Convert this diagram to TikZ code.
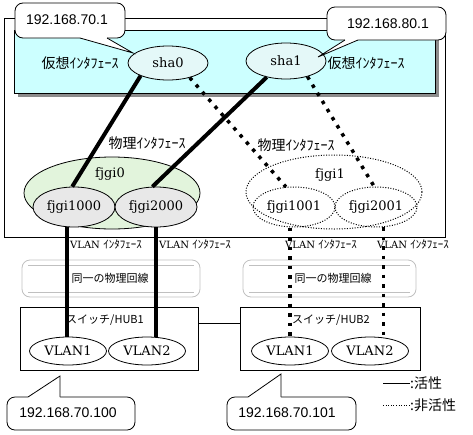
\documentclass[tikz,border=0pt]{standalone}
\usepackage{fontspec}
\usetikzlibrary{shapes.geometric,calc}
\newfontfamily\jpf{Noto Sans CJK JP}
\newfontfamily\serf{DejaVu Serif}
\newfontfamily\ipf{Liberation Sans}
\definecolor{cyanbg}{HTML}{CCFFFF}
\definecolor{shafill}{HTML}{E4F8F8}
\definecolor{greenfill}{HTML}{E2F4DC}
\definecolor{greyfill}{HTML}{E8E8E8}
\definecolor{shadowc}{HTML}{8C8C8C}
\definecolor{tubec}{HTML}{C0C0C0}
\newcommand\vlanifx{{\serf\fontsize{10}{12}\selectfont VLAN} {\jpf\fontsize{11}{13}\selectfont ｲﾝﾀﾌｪｰｽ}}
\begin{document}
\begin{tikzpicture}[x=1pt,y=-1pt,
  every node/.style={inner sep=0pt},
  bline/.style={line width=0.8pt},
  ell/.style={draw,ellipse,inner sep=0pt,line width=0.8pt},
  act/.style={line width=4pt},
  inact/.style={line width=3.5pt,dash pattern=on 3.5pt off 6pt},
  dots/.style={line width=1pt,dash pattern=on 1pt off 1.6pt},
  serl/.style={font=\serf\fontsize{13}{15}\selectfont},
  ipl/.style={font=\ipf\fontsize{14}{16}\selectfont},
  jpl/.style={font=\jpf\fontsize{14}{16}\selectfont},
  jps/.style={font=\jpf\fontsize{11}{13}\selectfont}
]
\useasboundingbox (0,0) rectangle (473,434);
% host box
\draw[bline] (4,18) rectangle (445,237);
% virtual interface band
\fill[shadowc] (18,34) rectangle (439,97);
\draw[bline,fill=cyanbg] (14,30) rectangle (435,93);
% virtual interfaces
\node[ell,fill=shafill,minimum width=80pt,minimum height=34pt,serl] (sha0) at (168,63) {sha0};
\node[ell,fill=shafill,minimum width=80pt,minimum height=36pt,serl] (sha1) at (286,61) {sha1};
\node[jpl] (vl0) at (80,63) {仮想ｲﾝﾀﾌｪｰｽ};
\node[jpl] (vl1) at (366,63) {仮想ｲﾝﾀﾌｪｰｽ};
% physical interfaces
\node[ell,fill=greenfill,minimum width=176pt,minimum height=72pt] (fj0) at (112,193) {};
\node[ell,dots,minimum width=176pt,minimum height=74pt] (fj1) at (334,192) {};
\node[serl] (t0) at (110,174) {fjgi0};
\node[serl] (t1) at (330,175) {fjgi1};
\node[jpl] (pl0) at (147,143) {物理ｲﾝﾀﾌｪｰｽ};
\node[jpl] (pl1) at (296,145) {物理ｲﾝﾀﾌｪｰｽ};
\node[ell,fill=greyfill,minimum width=82pt,minimum height=40pt,serl] (f1000) at (74,207) {fjgi1000};
\node[ell,fill=greyfill,minimum width=82pt,minimum height=40pt,serl] (f2000) at (156,207) {fjgi2000};
\node[ell,dots,minimum width=82pt,minimum height=40pt,serl] (f1001) at (294,207) {fjgi1001};
\node[ell,dots,minimum width=82pt,minimum height=40pt,serl] (f2001) at (376,207) {fjgi2001};
% VLAN interface labels
\node (vi1) at (106,244) {\vlanifx};
\node (vi2) at (195,244) {\vlanifx};
\node (vi3) at (321,244) {\vlanifx};
\node (vi4) at (413,244) {\vlanifx};
% same physical line tubes
\draw[tubec,bline,rounded corners=8pt] (22,260) rectangle (200,297);
\draw[tubec,bline] (28,265) -- (194,265) (28,292) -- (194,292);
\draw[tubec,bline,rounded corners=8pt] (243,260) rectangle (416,297);
\draw[tubec,bline] (249,265) -- (410,265) (249,292) -- (410,292);
\node[jps] (pt1) at (110,278) {同一の物理回線};
\node[jps] (pt2) at (333,278) {同一の物理回線};
% switches
\node[draw,bline,minimum width=178pt,minimum height=63pt] (hub1) at (109,338.5) {};
\node[draw,bline,minimum width=180pt,minimum height=63pt] (hub2) at (330,338.5) {};
\draw[bline] (hub1.east |- 0,323) -- (hub2.west |- 0,323);
\node[jps] (h1t) at (105,320) {スイッチ/HUB1};
\node[jps] (h2t) at (331,320) {スイッチ/HUB2};
\node[ell,fill=white,minimum width=77pt,minimum height=28pt,serl] (v11) at (68,351) {VLAN1};
\node[ell,fill=white,minimum width=77pt,minimum height=28pt,serl] (v12) at (147,351) {VLAN2};
\node[ell,fill=white,minimum width=77pt,minimum height=28pt,serl] (v21) at (290,351) {VLAN1};
\node[ell,fill=white,minimum width=77pt,minimum height=28pt,serl] (v22) at (370,351) {VLAN2};
% connectors
\draw[act] (sha0.205) -- (f1000.95);
\draw[act] (sha1.220) -- (f2000.100);
\draw[inact] (sha0.326) -- (f1001.112);
\draw[inact] (sha1.324) -- (f2001.95);
\draw[act] (f1000.-110) -- (f1000.-110 |- v11.north);
\draw[act] (f2000.south) -- (f2000.south |- v12.north);
\draw[inact] (v21.north |- f1001.south) -- (v21.north);
\draw[inact] (f2001.-70) -- (f2001.-70 |- v22.45);
% callouts
\draw[bline,fill=white,rounded corners=8pt] (15,3) rectangle (125,38);
\fill[white] (80,36) -- (80,38) -- (133,53) -- (107,38) -- (107,36) -- cycle;
\draw[bline] (80,38) -- (133,53) -- (107,38);
\node[ipl] (ip1) at (67,20) {192.168.70.1};
\draw[bline,fill=white,rounded corners=8pt] (327,7) rectangle (446,40);
\fill[white] (345,38) -- (345,40) -- (318,57) -- (358,40) -- (358,38) -- cycle;
\draw[bline] (345,40) -- (318,57) -- (358,40);
\node[ipl] (ip2) at (388,24) {192.168.80.1};
\draw[bline,fill=white,rounded corners=8pt] (7,397) rectangle (135,430);
\fill[white] (28,399) -- (28,397) -- (60,376) -- (60,397) -- (60,399) -- cycle;
\draw[bline] (28,397) -- (60,376) -- (60,397);
\node[ipl] (ip3) at (68,413) {192.168.70.100};
\draw[bline,fill=white,rounded corners=8pt] (227,397) rectangle (356,430);
\fill[white] (248,399) -- (248,397) -- (281,374) -- (281,397) -- (281,399) -- cycle;
\draw[bline] (248,397) -- (281,374) -- (281,397);
\node[ipl] (ip4) at (287,413) {192.168.70.101};
% legend
\coordinate (la) at (383,383);
\coordinate (lb) at (410,383);
\draw[bline] (la) -- (lb);
\node[jpl,anchor=west] (lt1) at (lb) {:活性};
\coordinate (lc) at (383,405);
\coordinate (ld) at (410,405);
\draw[dots] (lc) -- (ld);
\node[jpl,anchor=west] (lt2) at (ld) {:非活性};
\end{tikzpicture}
\end{document}
